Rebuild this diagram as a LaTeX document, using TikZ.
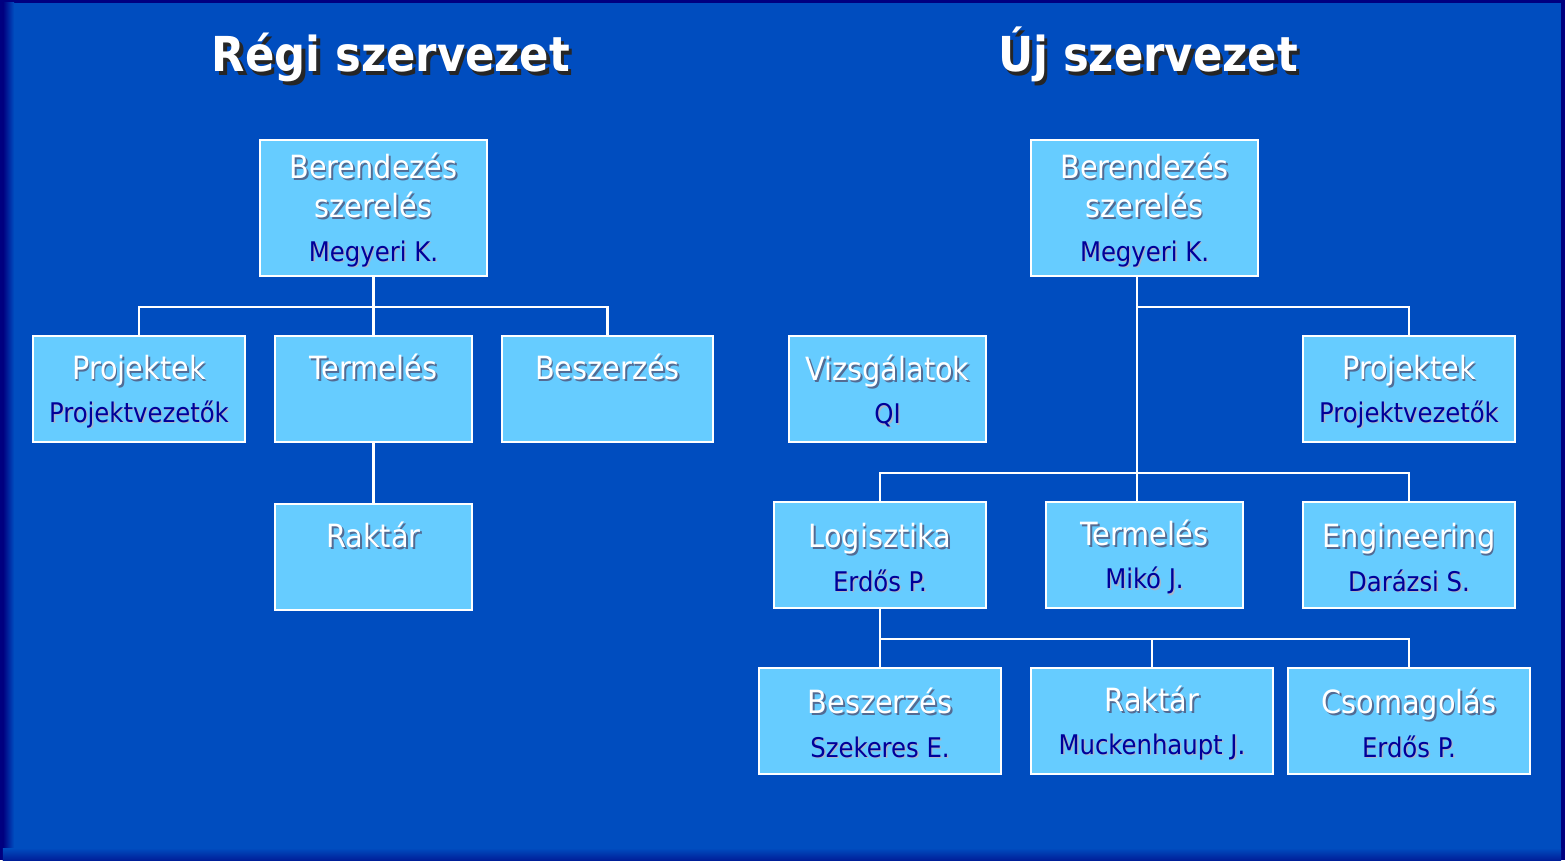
\documentclass[tikz,border=0pt]{standalone}
\usepackage{fontspec}
\setmainfont{DejaVu Sans Condensed}
\usepackage{tikz}
\usetikzlibrary{positioning,calc}
\definecolor{hatter}{RGB}{0,77,191}
\definecolor{keret}{RGB}{0,0,128}
\definecolor{doboz}{RGB}{102,204,255}
\definecolor{nevszin}{RGB}{0,0,153}
\definecolor{arnyek}{RGB}{40,70,120}
\newcommand{\arnyszoveg}[4]{\makebox[0pt][l]{\hspace{#4}\raisebox{-#4}{\textcolor{#2}{#3}}}\textcolor{#1}{#3}}
\newcommand{\egys}[1]{{\fontsize{9.1}{11.1}\selectfont\rule{0pt}{8.8pt}\arnyszoveg{white}{arnyek!80}{#1}{0.5pt}}}
\newcommand{\vez}[1]{{\fontsize{7.7}{9}\selectfont\arnyszoveg{nevszin}{arnyek!40}{#1}{0.4pt}}}
\tikzset{orgbox/.style={shape=rectangle, draw=white, fill=doboz, line width=0.6pt, minimum height=1.06cm, inner sep=0pt, align=center, font=\fontsize{9.1}{11.1}\selectfont}}
\tikzset{fonode/.style={orgbox, minimum width=2.27cm, minimum height=1.36cm}}
\tikzset{cimnode/.style={font=\fontsize{13.7}{16}\selectfont\bfseries, inner sep=0pt, anchor=base}}
\tikzset{conn/.style={draw=white, line width=0.6pt}}

\begin{document}
\begin{tikzpicture}
\useasboundingbox (0,0) rectangle (15.65,8.6);
%Background
\fill[keret] (0,0) rectangle (15.65,8.6);
\fill[hatter] (0.03,0) rectangle (15.61,8.57);
\shade[left color=keret, right color=hatter] (0.03,0) rectangle (0.14,8.57);
\shade[bottom color=keret!60!hatter, top color=hatter] (0.03,0) rectangle (15.61,0.12);
%Titles
\node[cimnode] (regicim) at (3.91,7.88) {\arnyszoveg{white}{black!85}{Régi szervezet}{1pt}};
\node[cimnode] (ujcim)   at (11.48,7.88) {\arnyszoveg{white}{black!85}{Új szervezet}{1pt}};
%Nodes old
\node[fonode] (lberend) at (3.735,6.52) {\egys{Berendezés}\\\egys{szerelés}\\[1.2pt]\vez{Megyeri K.}};
\node[orgbox, minimum width=2.12cm] (lprojekt) at (1.39,4.71) {\egys{Projektek}\\[1.2pt]\vez{Projektvezetők}};
\node[orgbox, minimum width=1.97cm] (ltermel)  at (3.735,4.71) {\egys{Termelés}\\[1.2pt]\vez{\phantom{Xg}}};
\node[orgbox, minimum width=2.11cm] (lbeszerz) at (6.075,4.71) {\egys{Beszerzés}\\[1.2pt]\vez{\phantom{Xg}}};
\node[orgbox, minimum width=1.97cm] (lraktar)  [below=0.6cm of ltermel] {\egys{Raktár}\\[1.2pt]\vez{\phantom{Xg}}};
%Nodes new
\node[fonode] (uberend) at (11.445,6.52) {\egys{Berendezés}\\\egys{szerelés}\\[1.2pt]\vez{Megyeri K.}};
\node[orgbox, minimum width=1.97cm] (uvizsg)   at (8.875,4.71) {\egys{Vizsgálatok}\\[1.2pt]\vez{QI}};
\node[orgbox, minimum width=2.12cm] (uprojekt) at (14.09,4.71) {\egys{Projektek}\\[1.2pt]\vez{Projektvezetők}};
\node[orgbox, minimum width=2.12cm] (ulogiszt) at (8.80,3.05) {\egys{Logisztika}\\[1.2pt]\vez{Erdős P.}};
\node[orgbox, minimum width=1.97cm] (utermel)  at (11.445,3.05) {\egys{Termelés}\\[1.2pt]\vez{Mikó J.}};
\node[orgbox, minimum width=2.12cm] (uengin)   at (14.09,3.05) {\egys{Engineering}\\[1.2pt]\vez{Darázsi S.}};
\node[orgbox, minimum width=2.42cm] (ubeszerz) at (8.80,1.39) {\egys{Beszerzés}\\[1.2pt]\vez{Szekeres E.}};
\node[orgbox, minimum width=2.42cm] (uraktar)  at (11.52,1.39) {\egys{Raktár}\\[1.2pt]\vez{Muckenhaupt J.}};
\node[orgbox, minimum width=2.42cm] (ucsomag)  at (14.09,1.39) {\egys{Csomagolás}\\[1.2pt]\vez{Erdős P.}};
%Lines old
\coordinate (lbus) at ($(lberend.south)+(0,-0.3)$);
\draw[conn] (lberend) -- (ltermel);
\draw[conn] (lbus) -| (lprojekt);
\draw[conn] (lbus) -| (lbeszerz);
\draw[conn] (ltermel) -- (lraktar);
%Lines new
\coordinate (utorzs) at ([xshift=-0.75mm]uberend.south);
\coordinate (ubus1) at ($(utorzs)+(0,-0.3)$);
\coordinate (ubus2) at ($(utorzs)+(0,-1.96)$);
\coordinate (ubus3) at ($(ulogiszt.south)+(0,-0.3)$);
\draw[conn] (utorzs) -- (utermel.north -| utorzs);
\draw[conn] (ubus1) -| (uprojekt);
\draw[conn] (ulogiszt) |- (ubus2) -| (uengin);
\draw[conn] (ulogiszt) -- (ubeszerz);
\draw[conn] (ubus3) -| (uraktar);
\draw[conn] (ubus3) -| (ucsomag);
\end{tikzpicture}
\end{document}
